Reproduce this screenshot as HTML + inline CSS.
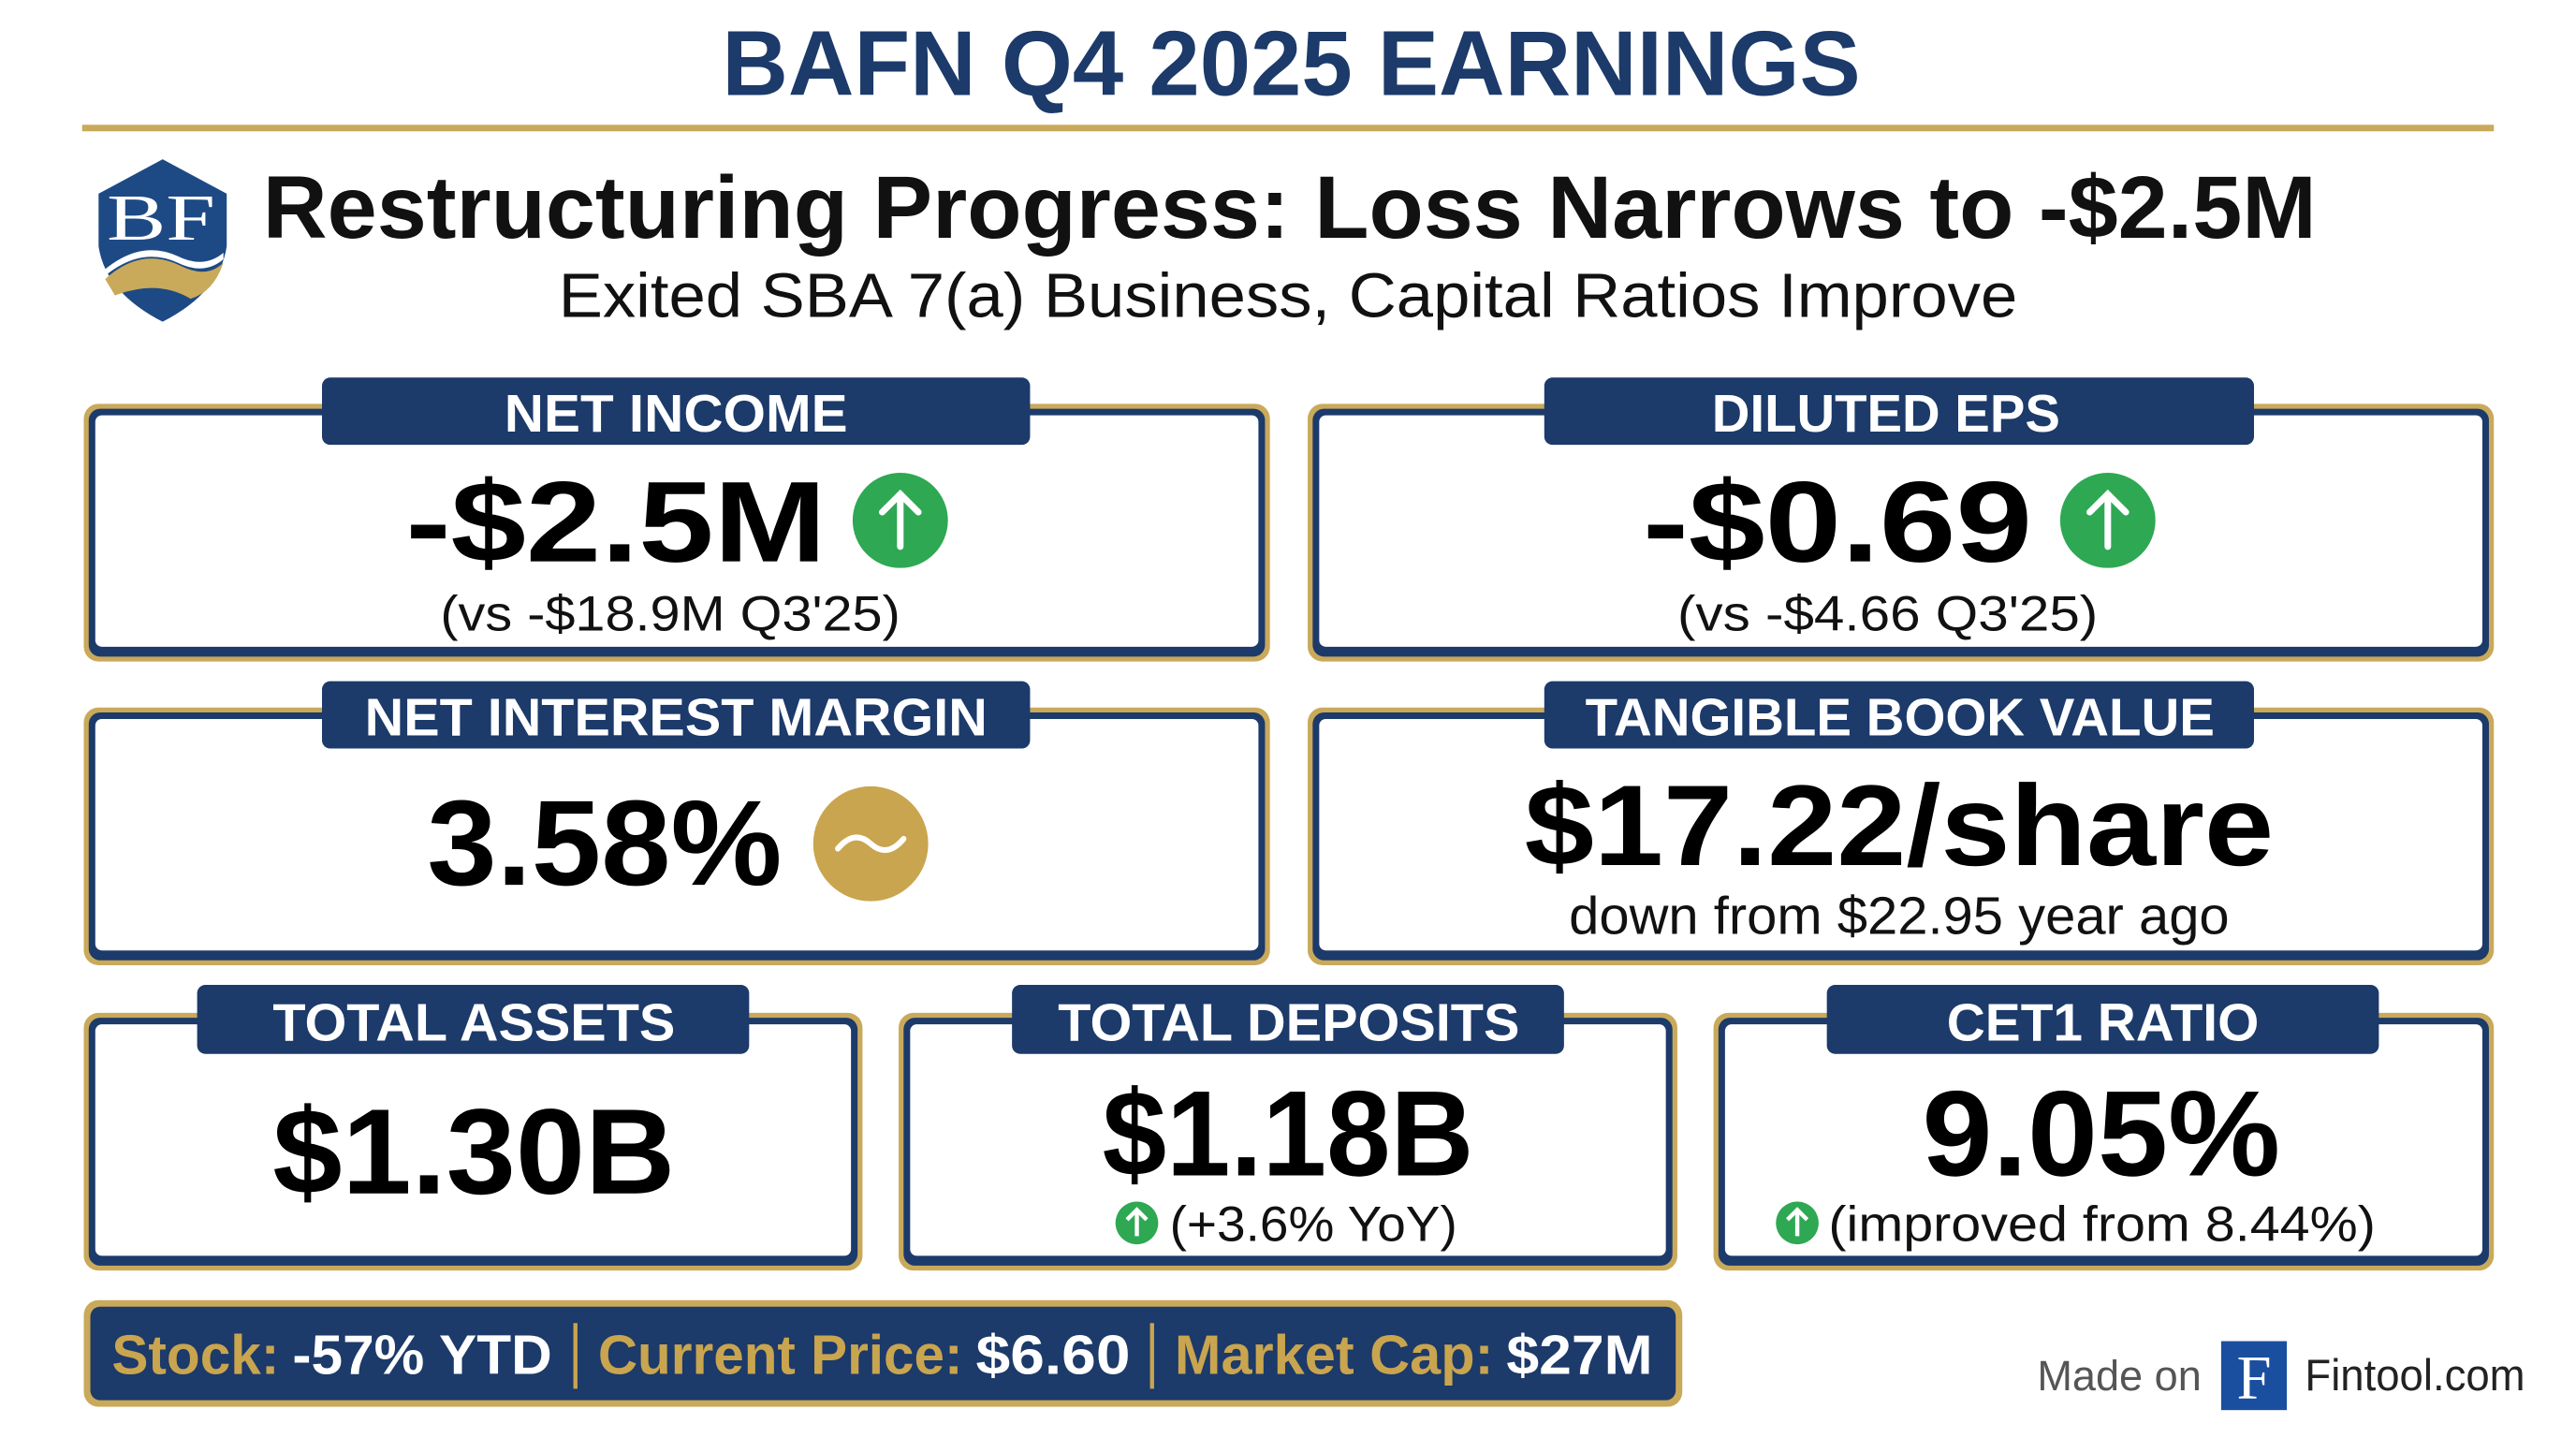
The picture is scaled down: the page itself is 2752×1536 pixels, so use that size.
<!DOCTYPE html>
<html><head><meta charset="utf-8"><style>html,body{margin:0;padding:0;background:#fff;overflow:hidden}svg{display:block}</style></head><body>
<svg width="2752" height="1536" viewBox="0 0 1568 876" preserveAspectRatio="none" xmlns="http://www.w3.org/2000/svg" font-family="Liberation Sans, Arial, sans-serif">
<rect width="1568" height="876" fill="#fff"/>
<text x="786" y="58" text-anchor="middle" font-size="56" font-weight="bold" fill="#1c3a6a" textLength="693" lengthAdjust="spacingAndGlyphs">BAFN Q4 2025 EARNINGS</text>
<rect x="50" y="76" width="1468" height="4" fill="#c9a95a"/>
<!-- logo -->
<path d="M60 118 L99 97 L138 118 L138 150 Q134 178 99 196 Q64 178 60 150 Z" fill="#1d4a85"/>
<path d="M64 170 Q86 150 110 162 Q126 170 136 160 Q130 178 116 182 Q96 170 70 180 Z" fill="#c9a95a"/>
<path d="M64 164 Q86 146 108 156 Q124 164 136 154 L136 158 Q124 168 108 160 Q86 150 64 168 Z" fill="#fff"/>
<text x="98" y="146" text-anchor="middle" font-family="Liberation Serif, serif" font-size="40" fill="#fff" textLength="66" lengthAdjust="spacingAndGlyphs">BF</text>
<text x="160" y="145" font-size="54" font-weight="bold" fill="#111" textLength="1250" lengthAdjust="spacingAndGlyphs">Restructuring Progress: Loss Narrows to -$2.5M</text>
<text x="340" y="193" font-size="38" fill="#111" textLength="888" lengthAdjust="spacingAndGlyphs">Exited SBA 7(a) Business, Capital Ratios Improve</text>

<defs>
<g id="none"></g>
</defs>
<!-- boxes -->
<g>
<!-- helper: gold rim, navy, white -->
<rect x="51" y="246" width="722" height="157" rx="9" fill="#c9a95a"/><rect x="54" y="249" width="716" height="151" rx="7" fill="#1c3a6a"/><rect x="58" y="253" width="708" height="141" rx="4" fill="#fff"/>
<rect x="796" y="246" width="722" height="157" rx="9" fill="#c9a95a"/><rect x="799" y="249" width="716" height="151" rx="7" fill="#1c3a6a"/><rect x="803" y="253" width="708" height="141" rx="4" fill="#fff"/>
<rect x="51" y="431" width="722" height="157" rx="9" fill="#c9a95a"/><rect x="54" y="434" width="716" height="151" rx="7" fill="#1c3a6a"/><rect x="58" y="438" width="708" height="141" rx="4" fill="#fff"/>
<rect x="796" y="431" width="722" height="157" rx="9" fill="#c9a95a"/><rect x="799" y="434" width="716" height="151" rx="7" fill="#1c3a6a"/><rect x="803" y="438" width="708" height="141" rx="4" fill="#fff"/>
<rect x="51" y="617" width="474" height="157" rx="9" fill="#c9a95a"/><rect x="54" y="620" width="468" height="151" rx="7" fill="#1c3a6a"/><rect x="58" y="624" width="460" height="141" rx="4" fill="#fff"/>
<rect x="547" y="617" width="474" height="157" rx="9" fill="#c9a95a"/><rect x="550" y="620" width="468" height="151" rx="7" fill="#1c3a6a"/><rect x="554" y="624" width="460" height="141" rx="4" fill="#fff"/>
<rect x="1043" y="617" width="475" height="157" rx="9" fill="#c9a95a"/><rect x="1046" y="620" width="469" height="151" rx="7" fill="#1c3a6a"/><rect x="1050" y="624" width="461" height="141" rx="4" fill="#fff"/>
</g>
<!-- tabs -->
<g fill="#1c3a6a">
<rect x="196" y="230" width="431" height="41" rx="5"/><rect x="940" y="230" width="432" height="41" rx="5"/>
<rect x="196" y="415" width="431" height="41" rx="5"/><rect x="940" y="415" width="432" height="41" rx="5"/>
<rect x="120" y="600" width="336" height="42" rx="5"/><rect x="616" y="600" width="336" height="42" rx="5"/><rect x="1112" y="600" width="336" height="42" rx="5"/>
</g>
<g fill="#fff" font-weight="bold" font-size="32">
<text x="307" y="263" textLength="209" lengthAdjust="spacingAndGlyphs">NET INCOME</text>
<text x="1042" y="263" textLength="212" lengthAdjust="spacingAndGlyphs">DILUTED EPS</text>
<text x="222" y="448" textLength="379" lengthAdjust="spacingAndGlyphs">NET INTEREST MARGIN</text>
<text x="965" y="448" textLength="383" lengthAdjust="spacingAndGlyphs">TANGIBLE BOOK VALUE</text>
<text x="166" y="634" textLength="245" lengthAdjust="spacingAndGlyphs">TOTAL ASSETS</text>
<text x="644" y="634" textLength="281" lengthAdjust="spacingAndGlyphs">TOTAL DEPOSITS</text>
<text x="1185" y="634" textLength="190" lengthAdjust="spacingAndGlyphs">CET1 RATIO</text>
</g>
<!-- values -->
<g fill="#000" font-weight="bold">
<text x="247" y="342" font-size="70" textLength="256" lengthAdjust="spacingAndGlyphs">-$2.5M</text>
<text x="1000" y="342" font-size="70" textLength="237" lengthAdjust="spacingAndGlyphs">-$0.69</text>
<text x="260" y="539" font-size="74" textLength="216" lengthAdjust="spacingAndGlyphs">3.58%</text>
<text x="928" y="527" font-size="70" textLength="456" lengthAdjust="spacingAndGlyphs">$17.22/share</text>
<text x="166" y="727" font-size="74" textLength="245" lengthAdjust="spacingAndGlyphs">$1.30B</text>
<text x="671" y="716" font-size="74" textLength="226" lengthAdjust="spacingAndGlyphs">$1.18B</text>
<text x="1170" y="716" font-size="74" textLength="218" lengthAdjust="spacingAndGlyphs">9.05%</text>
</g>
<g fill="#111" font-size="30">
<text x="268" y="384" textLength="280" lengthAdjust="spacingAndGlyphs">(vs -$18.9M Q3'25)</text>
<text x="1021" y="384" textLength="256" lengthAdjust="spacingAndGlyphs">(vs -$4.66 Q3'25)</text>
<text x="955" y="569" font-size="32" textLength="402" lengthAdjust="spacingAndGlyphs">down from $22.95 year ago</text>
<text x="712" y="756" textLength="175" lengthAdjust="spacingAndGlyphs">(+3.6% YoY)</text>
<text x="1113" y="756" textLength="333" lengthAdjust="spacingAndGlyphs">(improved from 8.44%)</text>
</g>
<!-- icons -->
<g>
<circle cx="548" cy="317" r="29" fill="#2ea853"/><path d="M548 333 V301 M537 312 L548 301 L559 312" stroke="#fff" stroke-width="4" fill="none" stroke-linecap="round"/>
<circle cx="1283" cy="317" r="29" fill="#2ea853"/><path d="M1283 333 V301 M1272 312 L1283 301 L1294 312" stroke="#fff" stroke-width="4" fill="none" stroke-linecap="round"/>
<circle cx="530" cy="514" r="35" fill="#c9a54f"/><path d="M510 517 Q520 505 530 514 Q540 523 550 511" stroke="#fff" stroke-width="3.5" fill="none" stroke-linecap="round"/>
<circle cx="692" cy="745" r="13" fill="#2ea853"/><path d="M692 753 V737 M686 743 L692 737 L698 743" stroke="#fff" stroke-width="2.5" fill="none"/>
<circle cx="1094" cy="745" r="13" fill="#2ea853"/><path d="M1094 753 V737 M1088 743 L1094 737 L1100 743" stroke="#fff" stroke-width="2.5" fill="none"/>
</g>
<!-- bottom bar -->
<rect x="51" y="792" width="973" height="65" rx="9" fill="#c9a95a"/>
<rect x="55" y="796" width="965" height="57" rx="6" fill="#1c3a6a"/>
<g font-size="34" font-weight="bold">
<text x="68" y="837" fill="#c9a54f" textLength="102" lengthAdjust="spacingAndGlyphs">Stock:</text>
<text x="178" y="837" fill="#fff" textLength="158" lengthAdjust="spacingAndGlyphs">-57% YTD</text>
<text x="364" y="837" fill="#c9a54f" textLength="222" lengthAdjust="spacingAndGlyphs">Current Price:</text>
<text x="594" y="837" fill="#fff" textLength="94" lengthAdjust="spacingAndGlyphs">$6.60</text>
<text x="715" y="837" fill="#c9a54f" textLength="194" lengthAdjust="spacingAndGlyphs">Market Cap:</text>
<text x="917" y="837" fill="#fff" textLength="89" lengthAdjust="spacingAndGlyphs">$27M</text>
</g>
<rect x="349" y="806" width="2.5" height="40" fill="#c9a54f"/><rect x="700" y="806" width="2.5" height="40" fill="#c9a54f"/>
<!-- footer -->
<text x="1240" y="847" font-size="26" fill="#555" textLength="100" lengthAdjust="spacingAndGlyphs">Made on</text>
<rect x="1352" y="817" width="40" height="42" fill="#1a4fa0"/>
<text x="1372" y="852" text-anchor="middle" font-family="Liberation Serif, serif" font-size="38" fill="#fff">F</text>
<text x="1403" y="847" font-size="27" fill="#222" textLength="134" lengthAdjust="spacingAndGlyphs">Fintool.com</text>
</svg>
</body></html>
